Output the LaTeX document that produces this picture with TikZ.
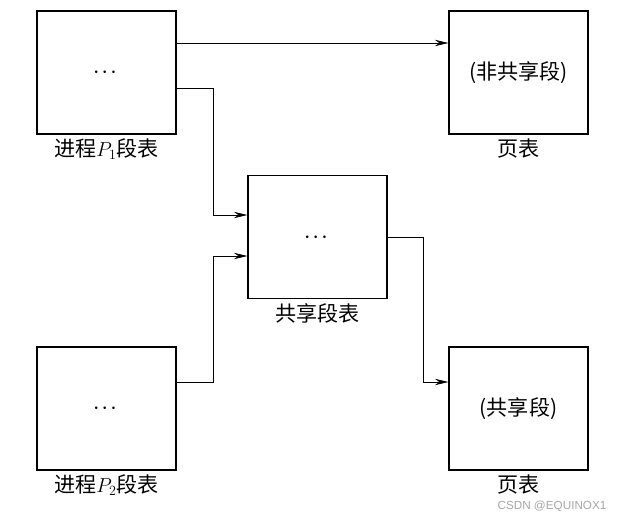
\documentclass[tikz,border=0pt]{standalone}
\usepackage{fontspec}
\setmainfont{Noto Sans CJK SC}
\newfontfamily\wmfont{Liberation Sans}
\usetikzlibrary{arrows.meta, positioning, calc}
\newcommand{\tbldots}{{\fontsize{15}{15}\selectfont$\boldsymbol{\cdots}$}}
\usepackage{amsmath,bm}

\begin{document}
\begin{tikzpicture}[
  x=0.3mm, y=-0.3mm,
  tbl/.style={rectangle, draw, line width=1.1pt, minimum width=41.7mm,
              minimum height=36.9mm, inner sep=0pt, align=center,
              font=\fontsize{18}{21}\selectfont,
              label distance=1.8mm},
  lbl/.style={font=\fontsize{18}{21}\selectfont},
  arrow/.style={-{Stealth[length=4mm, width=1.9mm]}, line width=0.6pt},
]

\useasboundingbox (0,0) rectangle (622,513);

% ---- 进程段表 ----
\node[tbl, label={[lbl]below:进程$P_1$段表}] (p1) at (106.5, 72.5)  {\tbldots};
\node[tbl, label={[lbl]below:进程$P_2$段表}] (p2) at (106.5, 408.5) {\tbldots};

% ---- 共享段表 ----
\node[tbl, label={[lbl]below:共享段表}] (shared) at (317.5, 237) {\tbldots};

% ---- 页表 ----
\node[tbl, label={[lbl]below:页表}] (pt-priv)   at (518.5, 72.5)  {(非共享段)};
\node[tbl, label={[lbl]below:页表}] (pt-shared) at (518.5, 408.5) {(共享段)};

% ---- 连线 ----
\draw[arrow] ([yshift=8.85mm]p1.east) -- ([yshift=8.85mm]pt-priv.west);
\draw[arrow] ([yshift=-4.65mm]p1.east) -- ++(37,0) |- ([yshift=6.6mm]shared.west);
\draw[arrow] ([yshift=7.95mm]p2.east) -- ++(37,0) |- ([yshift=-5.7mm]shared.west);
\draw[arrow] (shared.east) -- ++(36,0) |- ([yshift=7.95mm]pt-shared.west);

% ---- 水印 ----
\node[text=gray!70, font=\wmfont\fontsize{10}{11}\selectfont] (wm) at (552, 506) {CSDN @EQUINOX1};

\end{tikzpicture}
\end{document}
